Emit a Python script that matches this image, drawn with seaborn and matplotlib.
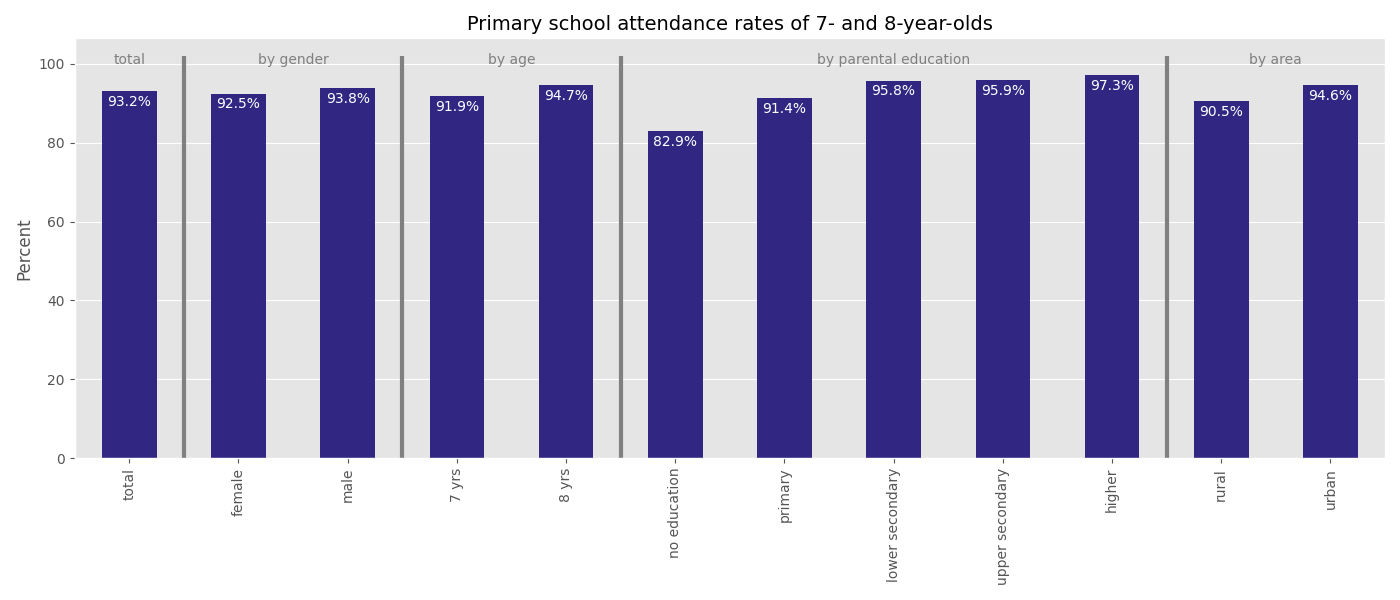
import matplotlib
matplotlib.use("Agg")
import matplotlib.pyplot as plt
import seaborn as sns
import pandas as pd

# ── Data ────────────────────────────────────────────────────────────────────
categories = ["total", "female", "male", "7 yrs", "8 yrs", "no education",
              "primary", "lower secondary", "upper secondary", "higher",
              "rural", "urban"]
values = [93.2, 92.5, 93.8, 91.9, 94.7, 82.9, 91.4, 95.8, 95.9, 97.3, 90.5, 94.6]
group_names = ["total", "by gender", "by age", "by parental education", "by area"]
group_sizes = [1, 2, 2, 5, 2]

plt.style.use("ggplot")
df = pd.DataFrame({"category": categories, "value": values})

fig, ax = plt.subplots(figsize=(14, 6), dpi=100)
sns.barplot(data=df, x="category", y="value", color="#312783", width=0.5,
            saturation=1, ax=ax)

for i, v in enumerate(values):
    ax.text(i, v - 1, f"{v}%", ha="center", va="top", color="white", fontsize=10)

start = 0
for k, (name, size) in enumerate(zip(group_names, group_sizes)):
    center = start + (size - 1) / 2
    ax.text(center, 101, name, ha="center", va="center", color="grey", fontsize=10)
    start += size
    if k < len(group_sizes) - 1:
        ax.vlines(start - 0.5, 0, 102, color="grey", linewidth=3)

ax.set_xlim(-0.5, len(categories) - 0.5)
ax.set_ylim(0, 106.5)
ax.set_xlabel("")
ax.set_ylabel("Percent", fontsize=12)
ax.set_title("Primary school attendance rates of 7- and 8-year-olds", fontsize=14)
ax.tick_params(axis="x", rotation=90)

plt.tight_layout()
plt.savefig("out.png")
